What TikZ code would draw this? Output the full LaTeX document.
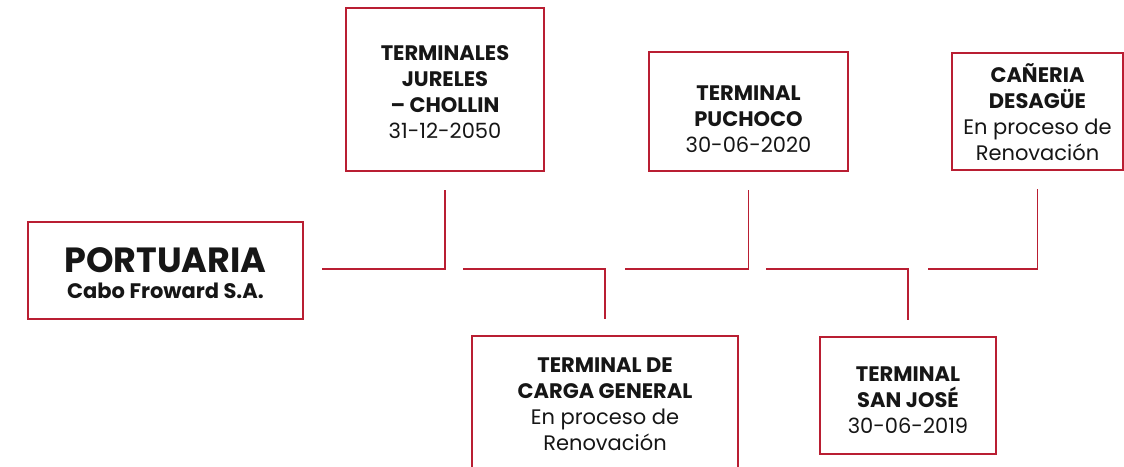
\documentclass[tikz,border=0pt]{standalone}
\usepackage{fontspec}
\setmainfont{Poppins}
\usepackage{xcolor}
\usetikzlibrary{calc,positioning}
\definecolor{cfred}{RGB}{185,30,50}
\definecolor{cftext}{RGB}{22,22,22}

\begin{document}
\begin{tikzpicture}[x=1pt,y=-1pt]
\tikzset{
    term box/.style={
       draw = cfred,
       line width = 1.5pt,
       inner sep = 0pt,
       outer sep = 0pt
    },
    term text/.style={
       align = center,
       inner sep = 0pt,
       text = cftext,
       font = \fontsize{21}{26}\selectfont
    },
   link/.style={
     draw = cfred,
     line width = 1.5pt
   }
}
%
\clip (0,0) rectangle (1124,466);
\fill[white] (0,0) rectangle (1124,466);

\node[term box, minimum width=275pt, minimum height=97pt] (portuaria) at (165.5,270.5) {};
\node[term text] (portuaria-txt) at ([yshift=-3pt]portuaria.center)
  {{\fontsize{35}{31}\selectfont\bfseries PORTUARIA}\\{\fontsize{21}{26}\selectfont\bfseries Cabo Froward S.A.}};

\node[term box, minimum width=198pt, minimum height=163pt] (jureles) at (445,89.5) {};
\node[term text] (jureles-txt) at ([yshift=-3pt]jureles.center)
  {\textbf{TERMINALES}\\\textbf{JURELES}\\\textbf{– CHOLLIN}\\31-12-2050};

\node[term box, minimum width=199pt, minimum height=119pt] (puchoco) at (748.5,111.5) {};
\node[term text] (puchoco-txt) at ([yshift=-8pt]puchoco.center)
  {\textbf{TERMINAL}\\\textbf{PUCHOCO}\\30-06-2020};

\node[term box, minimum width=171pt, minimum height=117pt] (caneria) at (1037.5,111.5) {};
\node[term text] (caneria-txt) at ([yshift=-1pt]caneria.center)
  {\textbf{CAÑERIA}\\\textbf{DESAGÜE}\\En proceso de\\Renovación};

\node[term box, minimum width=266pt, minimum height=136pt] (carga) at (605,404) {};
\node[term text] (carga-txt) at (carga.center)
  {\textbf{TERMINAL DE}\\\textbf{CARGA GENERAL}\\En proceso de\\Renovación};

\node[term box, minimum width=176pt, minimum height=117pt] (sanjose) at (908,395.5) {};
\node[term text] (sanjose-txt) at ([yshift=-5pt]sanjose.center)
  {\textbf{TERMINAL}\\\textbf{SAN JOSÉ}\\30-06-2019};

% line pieces
\coordinate (h1) at (322,269);
\coordinate (h2) at (463,269);
\coordinate (h3) at (625,269);
\coordinate (h4) at (766,269);
\coordinate (h5) at (928,269);

\draw[link] (h1) -| ([yshift=-19pt]jureles.south);
\draw[link] (h2) -| ([yshift=17pt]carga.north);
\draw[link] (h3) -| ([yshift=-19pt]puchoco.south);
\draw[link] (h4) -| ([yshift=17pt]sanjose.north);
\draw[link] (h5) -| ([yshift=-19pt]caneria.south);
\end{tikzpicture}
\end{document}
